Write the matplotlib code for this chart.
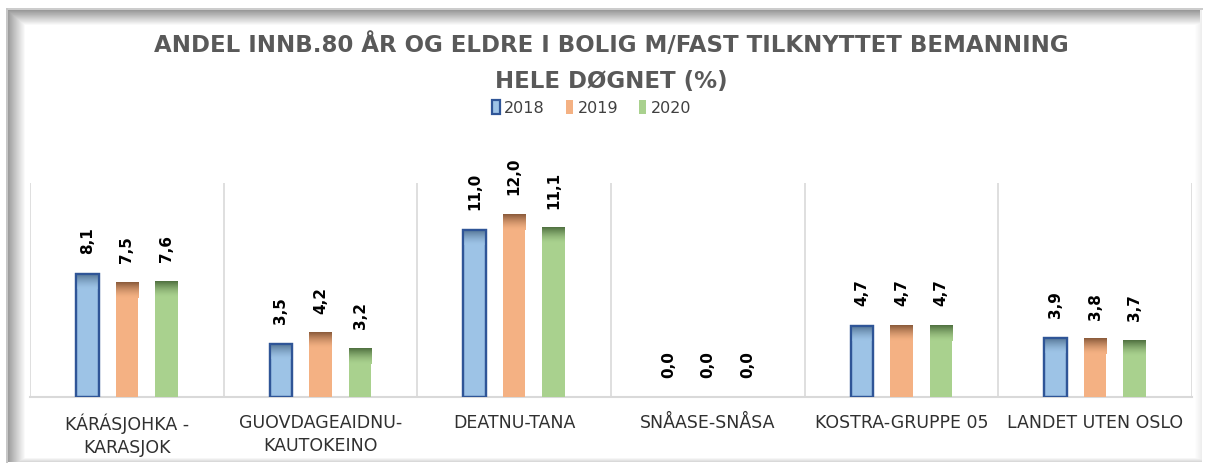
import matplotlib
matplotlib.use("Agg")
import matplotlib.pyplot as plt
import numpy as np
from matplotlib.patches import Rectangle
from matplotlib.colors import LinearSegmentedColormap

categories = ["KÁRÁSJOHKA -\nKARASJOK", "GUOVDAGEAIDNU-\nKAUTOKEINO", "DEATNU-TANA",
              "SNÅASE-SNÅSA", "KOSTRA-GRUPPE 05", "LANDET UTEN OSLO"]
series_names = ["2018", "2019", "2020"]
v2018 = [8.1, 3.5, 11.0, 0.0, 4.7, 3.9]
v2019 = [7.5, 4.2, 12.0, 0.0, 4.7, 3.8]
v2020 = [7.6, 3.2, 11.1, 0.0, 4.7, 3.7]
title = "ANDEL INNB.80 ÅR OG ELDRE I BOLIG M/FAST TILKNYTTET BEMANNING\nHELE DØGNET (%)"

W, H = 1205, 466
fig = plt.figure(figsize=(W / 100, H / 100), dpi=100)
fig.patch.set_facecolor("white")

# decorative frame with inner shadow
bg = np.ones((H, W))
bg[8:10, 6:1203] = 0.80
bg[8:463, 6:8] = 0.78
top_sh = np.linspace(0.60, 1.0, 16)
for i, v in enumerate(top_sh):
    bg[10 + i, 8:1200] = np.minimum(bg[10 + i, 8:1200], v)
left_sh = np.linspace(0.62, 1.0, 18)
for i, v in enumerate(left_sh):
    bg[10:462, 8 + i] = np.minimum(bg[10:462, 8 + i], v)
right_sh = np.linspace(1.0, 0.93, 8)
for i, v in enumerate(right_sh):
    bg[10:462, 1194 + i] = np.minimum(bg[10:462, 1194 + i], v)
bot_sh = np.linspace(1.0, 0.85, 5)
for i, v in enumerate(bot_sh):
    bg[457 + i, 8:1202] = np.minimum(bg[457 + i, 8:1202], v)
bax = fig.add_axes([0, 0, 1, 1], zorder=-5)
bax.imshow(bg, cmap="gray", vmin=0, vmax=1, aspect="auto", interpolation="nearest")
bax.axis("off")

ax = fig.add_axes([30 / W, (H - 397) / H, (1192 - 30) / W, (397 - 183) / H])
ax.patch.set_alpha(0)

fills = ["#9DC3E6", "#F4B183", "#A9D18E"]
tops = ["#4E6E8E", "#8A5A3A", "#4F7040"]
edges = ["#2F5597", "#F4B183", "#A9D18E"]
data = [v2018, v2019, v2020]
x = np.arange(len(categories)) + 0.5
offs = [-0.204, 0.0, 0.204]
bw = 0.117

for vals, fc, tc, ec, off, name in zip(data, fills, tops, edges, offs, series_names):
    lws = [(1.6 if name == "2018" and v > 0 else 0.0) for v in vals]
    bars = ax.bar(x + off, vals, width=bw, color=fc, edgecolor=ec,
                  linewidth=lws, zorder=3, label=name)
    cmap = LinearSegmentedColormap.from_list("g", [fc, tc])
    for b in bars:
        h = b.get_height()
        if h <= 0:
            continue
        gh = min(1.0, h)
        grad = np.linspace(0, 1, 50).reshape(-1, 1) ** 1.5
        ax.imshow(grad, extent=(b.get_x(), b.get_x() + b.get_width(), h - gh, h),
                  origin="lower", aspect="auto", cmap=cmap, zorder=3.5, interpolation="bilinear")
        if name == "2018":
            ax.add_patch(Rectangle((b.get_x(), 0), b.get_width(), h, fill=False,
                                   edgecolor=ec, lw=1.6, zorder=4))
    for xi, v in zip(x + off, vals):
        ax.annotate(f"{v:.1f}".replace(".", ","), (xi, v), xytext=(0, 14), textcoords="offset points",
                    rotation=90, ha="center", va="bottom", fontsize=11, fontweight="bold",
                    color="black", zorder=5)
ax.set_aspect("auto")
ax.set_xlim(0, len(categories))
ax.set_ylim(0, 14.07)

for s in ["top", "right", "left"]:
    ax.spines[s].set_visible(False)
ax.spines["bottom"].set_color("#D9D9D9")
ax.spines["bottom"].set_linewidth(1.5)
for b in range(len(categories) + 1):
    ax.axvline(b, color="#D9D9D9", lw=1.2, zorder=1)
ax.set_yticks([])
ax.set_xticks(x)
ax.set_xticklabels(categories, fontsize=12.5, color="#303030", linespacing=1.35)
ax.tick_params(axis="x", length=0, pad=12)

fig.text(611 / W, 1 - 63 / H, title, ha="center", va="center", fontsize=16.5, fontweight="bold",
         color="#595959", family="DejaVu Sans", linespacing=1.75)

handles, labels = ax.get_legend_handles_labels()
fig.legend(handles, labels, loc="center", bbox_to_anchor=(592 / W, 1 - 108 / H), ncol=3,
           frameon=False, handlelength=0.45, handleheight=0.9, handletextpad=0.3,
           columnspacing=1.3, prop={"family": "DejaVu Sans", "size": 11.5})
for t in fig.legends[0].get_texts():
    t.set_color("#404040")

fig.savefig("out.png", dpi=100, facecolor="white")
